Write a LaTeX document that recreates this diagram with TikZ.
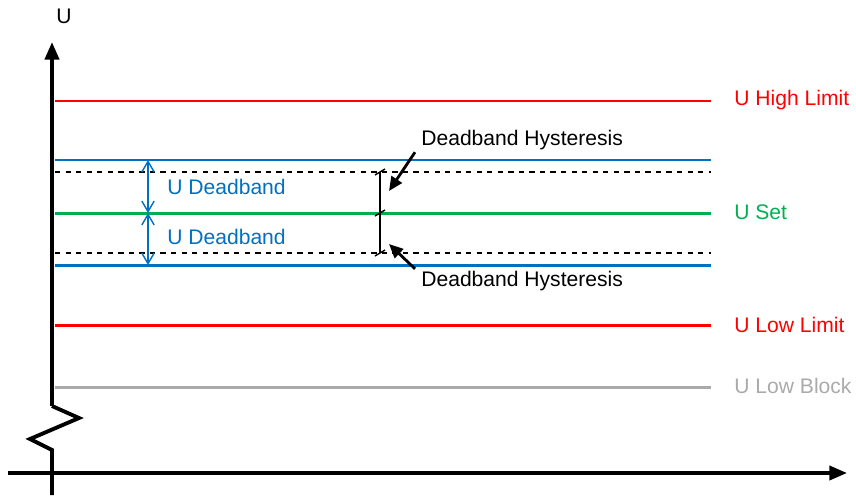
\documentclass[tikz,border=0pt]{standalone}
\usepackage{fontspec}
\setmainfont{Liberation Sans}
\usetikzlibrary{arrows.meta}
\definecolor{limitred}{RGB}{255,0,0}
\definecolor{bandblue}{RGB}{0,112,192}
\definecolor{setgreen}{RGB}{0,176,80}
\definecolor{blockgray}{RGB}{170,170,170}
\begin{document}
\begin{tikzpicture}[x=0.02cm,y=-0.02cm,font=\fontsize{12}{14}\selectfont,
		level/.style={line width=1.7pt},
		hyst/.style={dashed,line width=0.8pt},
		lab/.style={anchor=west,inner sep=0pt}]
			\useasboundingbox (0,0) rectangle (856,498);
			% axes
			\draw[line width=2.2pt,-{Triangle[length=10pt,width=8pt]}] (52,406) -- (52,42);
			\draw[line width=2.2pt] (52,406) -- (79,418) -- (30,439) -- (52,450) -- (52,495);
			\draw[line width=1.9pt,-{Triangle[length=10pt,width=8pt]}] (8,473) -- (847,473);
			\node[inner sep=0pt] (ulabel) at (64,16) {U};
			% levels
			\draw[level,limitred] (55,101) -- (711,101);
			\draw[level,bandblue] (55,160) -- (711,160);
			\draw[hyst] (55,172) -- (711,172);
			\draw[level,setgreen] (55,213) -- (711,213);
			\draw[hyst] (55,253) -- (711,253);
			\draw[level,bandblue] (55,265) -- (711,265);
			\draw[level,limitred] (55,325) -- (711,325);
			\draw[level,blockgray] (55,387) -- (711,387);
			\node[lab,text=limitred] (high) at (734,100) {U High Limit};
			\node[lab,text=setgreen] (set) at (734,212) {U Set};
			\node[lab,text=limitred] (low) at (734,325) {U Low Limit};
			\node[lab,text=blockgray] (block) at (734,386) {U Low Block};
			% deadband
			\coordinate (dbtop) at (148,160);
			\coordinate (dbmid) at (148,213);
			\coordinate (dbbot) at (148,265);
			\draw[bandblue,line width=0.8pt,{Straight Barb[length=6pt,width=7pt]}-{Straight Barb[length=6pt,width=7pt]}] (dbtop) -- (dbmid);
			\draw[bandblue,line width=0.8pt,{Straight Barb[length=6pt,width=7pt]}-{Straight Barb[length=6pt,width=7pt]}] (dbmid) -- (dbbot);
			\node[lab,text=bandblue] (dbup) at (167,187) {U Deadband};
			\node[lab,text=bandblue] (dbdown) at (167,237) {U Deadband};
			% hysteresis
			\coordinate (hytop) at (380,172);
			\coordinate (hymid) at (380,213);
			\coordinate (hybot) at (380,253);
			\draw[line width=0.8pt] (hytop) -- (hybot);
			\foreach \c in {hytop,hymid,hybot}
				\draw[line width=0.8pt] ([shift={(-5,3)}]\c) -- ([shift={(5,-3)}]\c);
			\node[lab] (hystop) at (421,140) {Deadband Hysteresis};
			\node[lab] (hysbot) at (421,281) {Deadband Hysteresis};
			\coordinate (hytip) at (389,191);
			\coordinate (hybtip) at (389,244);
			\draw[line width=1.6pt,-{Triangle[length=8pt,width=7pt]}] (hystop.south west) ++(-6,2) -- (hytip);
			\draw[line width=1.6pt,-{Triangle[length=8pt,width=7pt]}] (hysbot.north west) ++(-6,-2) -- (hybtip);
		\end{tikzpicture}
\end{document}
